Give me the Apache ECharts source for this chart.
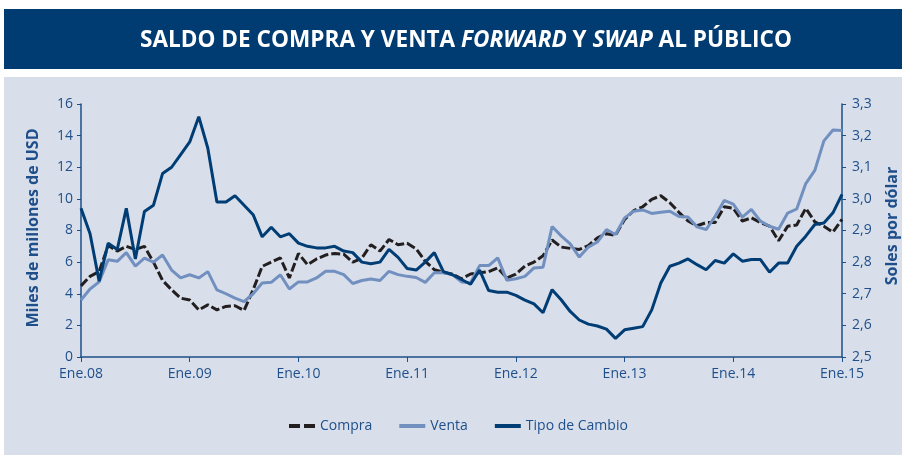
<!DOCTYPE html>
<html>
<head>
<meta charset="utf-8">
<script src="https://cdn.jsdelivr.net/npm/echarts@6/dist/echarts.min.js"></script>
<style>
  html, body { margin: 0; padding: 0; background: #fff; }
  #chart { width: 902px; height: 455px; }
</style>
</head>
<body>
<div id="chart"></div>
<script>
// monthly, Ene.08 .. Ene.15
const monthNames = ['Ene', 'Feb', 'Mar', 'Abr', 'May', 'Jun', 'Jul', 'Ago', 'Set', 'Oct', 'Nov', 'Dic'];
const years = ['08', '09', '10', '11', '12', '13', '14', '15'];

// miles de millones de USD
const compra = [
  4.5, 5.1, 5.4, 7.05, 6.7, 7.0, 6.8, 7.0, 6.0, 4.85, 4.25, 3.72,
  3.6, 2.98, 3.3, 2.98, 3.2, 3.24, 2.94, 4.25, 5.73, 6.0, 6.27, 5.0,
  6.55, 5.84, 6.2, 6.45, 6.55, 6.5, 6.0, 6.25, 7.1, 6.7, 7.43, 7.1,
  7.2, 6.84, 6.05, 5.52, 5.35, 5.25, 4.95, 5.25, 5.33, 5.4, 5.63, 5.0,
  5.24, 5.75, 6.0, 6.4, 7.4, 6.95, 6.87, 6.8, 7.05, 7.54, 7.8, 7.7,
  8.7, 9.25, 9.5, 9.97, 10.2, 9.76, 9.15, 8.6, 8.3, 8.5, 8.5, 9.5,
  9.4, 8.6, 8.8, 8.5, 8.27, 7.35, 8.27, 8.35, 9.4, 8.55, 8.27, 7.9,
  8.7
];
const venta = [
  3.6, 4.3, 4.75, 6.15, 6.05, 6.6, 5.75, 6.25, 6.0, 6.45, 5.5, 5.0,
  5.2, 5.0, 5.4, 4.25, 4.0, 3.72, 3.5, 4.0, 4.68, 4.72, 5.2, 4.3,
  4.75, 4.75, 5.0, 5.42, 5.42, 5.21, 4.65, 4.84, 4.93, 4.84, 5.42, 5.21,
  5.1, 5.03, 4.72, 5.33, 5.33, 5.21, 4.75, 4.7, 5.78, 5.78, 6.27, 4.86,
  4.95, 5.1, 5.63, 5.68, 8.25, 7.66, 7.15, 6.32, 6.95, 7.27, 8.06, 7.75,
  8.8, 9.22, 9.3, 9.08, 9.16, 9.22, 8.88, 8.85, 8.23, 8.06, 8.9, 9.9,
  9.67, 8.85, 9.33, 8.59, 8.27, 8.08, 9.1, 9.36, 10.97, 11.8, 13.67, 14.36,
  14.33
];
// soles por dólar
const tipoCambio = [
  2.97, 2.89, 2.74, 2.86, 2.84, 2.97, 2.81, 2.96, 2.98, 3.08, 3.10, 3.14,
  3.18, 3.26, 3.16, 2.99, 2.99, 3.01, 2.98, 2.95, 2.88, 2.91, 2.88, 2.89,
  2.86, 2.85, 2.845, 2.845, 2.85, 2.835, 2.83, 2.80, 2.795, 2.80, 2.84, 2.815,
  2.78, 2.775, 2.80, 2.83, 2.77, 2.76, 2.745, 2.73, 2.775, 2.71, 2.705, 2.705,
  2.695, 2.68, 2.668, 2.64, 2.713, 2.681, 2.644, 2.617, 2.604, 2.598, 2.588, 2.559,
  2.586, 2.591, 2.596, 2.649, 2.734, 2.787, 2.797, 2.81, 2.792, 2.776, 2.805, 2.797,
  2.826, 2.803, 2.808, 2.808, 2.768, 2.797, 2.797, 2.85, 2.882, 2.919, 2.924, 2.956,
  3.014
];

const categories = [];
years.forEach(function (y, k) {
  monthNames.forEach(function (m) {
    if (k < years.length - 1 || m === 'Ene') categories.push(m + '.' + y);
  });
});

const FONT = '"Open Sans", sans-serif';
const AXIS_BLUE = '#1d4f88';
const TEXT_BLUE = '#1f4f8b';

const myChart = echarts.init(document.getElementById('chart'), null, { renderer: 'canvas' });

const option = {
  animation: false,
  backgroundColor: '#ffffff',
  textStyle: { fontFamily: FONT },
  graphic: [
    { type: 'rect', z: -10, shape: { x: 4, y: 9, width: 898, height: 60 }, style: { fill: '#003b71' } },
    { type: 'rect', z: -10, shape: { x: 4, y: 77, width: 898, height: 378 }, style: { fill: '#d8dfea' } },
    {
      type: 'text', x: 33, y: 228, rotation: Math.PI / 2,
      style: { text: 'Miles de millones de USD', fill: TEXT_BLUE, font: 'bold 16px ' + FONT, align: 'center', verticalAlign: 'middle' }
    },
    {
      type: 'text', x: 892, y: 226, rotation: Math.PI / 2,
      style: { text: 'Soles por dólar', fill: TEXT_BLUE, font: 'bold 16px ' + FONT, align: 'center', verticalAlign: 'middle' }
    }
  ],
  title: {
    text: '{a|SALDO DE COMPRA Y VENTA }{b|FORWARD}{a| Y }{b|SWAP}{a| AL PÚBLICO}',
    left: 135,
    top: 24,
    textStyle: {
      rich: {
        a: { color: '#fff', fontFamily: FONT, fontWeight: 'bold', fontSize: 22.6 },
        b: { color: '#fff', fontFamily: FONT, fontWeight: 'bold', fontStyle: 'italic', fontSize: 22.6 }
      }
    }
  },
  legend: {
    left: 284,
    top: 414,
    itemWidth: 26,
    itemHeight: 4,
    itemGap: 27,
    textStyle: { color: TEXT_BLUE, fontSize: 14, fontFamily: FONT },
    data: [
      { name: 'Compra', icon: 'path://M0,0H11V4H0Z M15,0H26V4H15Z' },
      { name: 'Venta', icon: 'rect' },
      { name: 'Tipo de Cambio', icon: 'rect' }
    ]
  },
  grid: { left: 81, right: 60, top: 104, bottom: 98 },
  xAxis: {
    type: 'category',
    boundaryGap: false,
    data: categories,
    axisLine: { lineStyle: { color: AXIS_BLUE, width: 1.5 } },
    axisTick: { interval: 11, length: 5, lineStyle: { color: AXIS_BLUE } },
    axisLabel: { interval: 11, color: TEXT_BLUE, fontSize: 14, margin: 10, fontFamily: FONT }
  },
  yAxis: [
    {
      type: 'value', min: 0, max: 16, interval: 2,
      axisLine: { show: true, lineStyle: { color: AXIS_BLUE, width: 1.5 } },
      axisTick: { show: true, length: 4, lineStyle: { color: AXIS_BLUE } },
      axisLabel: { color: TEXT_BLUE, fontSize: 14, margin: 8, fontFamily: FONT },
      splitLine: { show: false }
    },
    {
      type: 'value', min: 2.5, max: 3.3, interval: 0.1,
      axisLine: { show: true, lineStyle: { color: AXIS_BLUE, width: 1.5 } },
      axisTick: { show: true, length: 4, lineStyle: { color: AXIS_BLUE } },
      axisLabel: {
        color: TEXT_BLUE, fontSize: 14, margin: 10, fontFamily: FONT,
        formatter: function (v) { return v.toFixed(1).replace('.', ','); }
      },
      splitLine: { show: false }
    }
  ],
  series: [
    {
      name: 'Compra', type: 'line', data: compra, yAxisIndex: 0,
      showSymbol: false, symbol: 'none',
      lineStyle: { color: '#231f20', width: 3, type: [9, 3] },
      itemStyle: { color: '#231f20' }
    },
    {
      name: 'Venta', type: 'line', data: venta, yAxisIndex: 0,
      showSymbol: false, symbol: 'none',
      lineStyle: { color: '#7190c0', width: 3 },
      itemStyle: { color: '#7190c0' }
    },
    {
      name: 'Tipo de Cambio', type: 'line', data: tipoCambio, yAxisIndex: 1,
      showSymbol: false, symbol: 'none',
      lineStyle: { color: '#003d75', width: 3 },
      itemStyle: { color: '#003d75' }
    }
  ]
};

myChart.setOption(option);
</script>
</body>
</html>
